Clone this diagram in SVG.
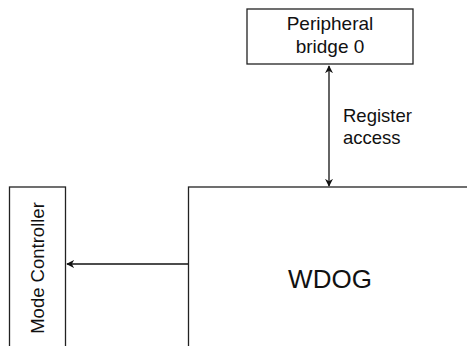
<svg xmlns="http://www.w3.org/2000/svg" width="467" height="346" viewBox="0 0 467 346">
<style>
.box{fill:#fff;stroke:#222;stroke-width:1.3}
.conn{stroke:#111;stroke-width:1.3;fill:none}
text{font-family:"Liberation Sans",Arial,sans-serif;fill:#111}
</style>
<defs>
<marker id="ah" viewBox="0 0 10 10" refX="9" refY="5" markerWidth="8" markerHeight="8" markerUnits="userSpaceOnUse" orient="auto-start-reverse">
<path d="M0,0 L10,5 L0,10 L3,5 Z" fill="#111"/>
</marker>
</defs>
<rect width="467" height="346" fill="#fff"/>
<g id="peripheral">
<rect class="box" x="247" y="9" width="166" height="55"/>
<text x="330" y="30" font-size="19" text-anchor="middle">Peripheral</text>
<text x="330" y="53" font-size="19" text-anchor="middle">bridge 0</text>
</g>
<g id="wdog">
<rect class="box" x="188.5" y="187" width="290" height="170"/>
<text x="330" y="288" font-size="26" text-anchor="middle">WDOG</text>
</g>
<g id="mode-controller">
<rect class="box" x="9.5" y="187" width="56" height="170"/>
<text transform="translate(44,268) rotate(-90)" font-size="18.5" text-anchor="middle">Mode Controller</text>
</g>
<g id="connectors">
<line class="conn" x1="329" y1="66" x2="329" y2="186" marker-start="url(#ah)" marker-end="url(#ah)"/>
<line class="conn" x1="188" y1="264" x2="67" y2="264" marker-end="url(#ah)"/>
<text x="343" y="122" font-size="18.5">Register</text>
<text x="343" y="144" font-size="18.5">access</text>
</g>
</svg>
